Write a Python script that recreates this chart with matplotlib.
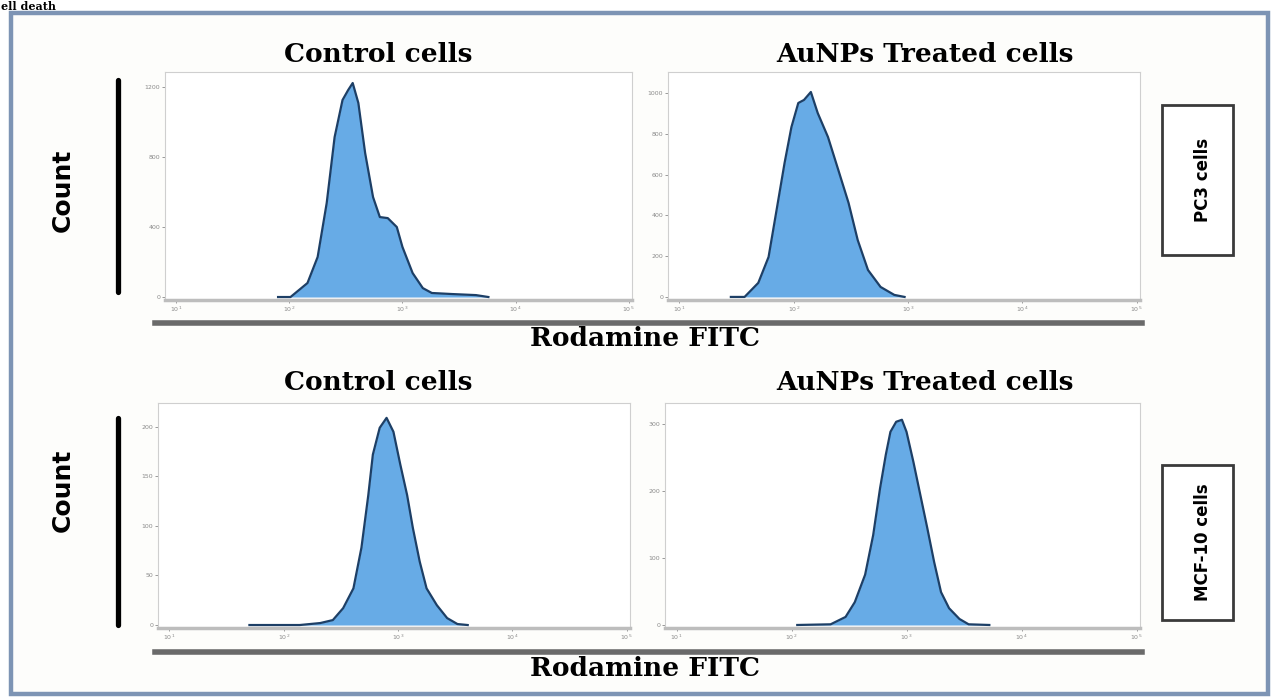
import matplotlib.pyplot as plt
import numpy as np
from matplotlib.patches import Rectangle
from matplotlib.lines import Line2D

# log10 fluorescence (Rodamine FITC) and counts
pc3_ctrl_logx = [1.90, 2.01, 2.16, 2.25, 2.33, 2.40, 2.47, 2.52, 2.56, 2.61, 2.67,
                 2.74, 2.80, 2.87, 2.95, 3.00, 3.09, 3.18, 3.26, 3.44, 3.65, 3.76]
pc3_ctrl_count = [0, 0, 80, 229, 537, 914, 1126, 1183, 1223, 1109, 823,
                  571, 457, 451, 400, 286, 137, 51, 23, 17, 11, 0]

pc3_aunp_logx = [1.45, 1.57, 1.69, 1.78, 1.85, 1.92, 1.98, 2.04, 2.09, 2.15,
                 2.21, 2.30, 2.39, 2.48, 2.56, 2.65, 2.76, 2.88, 2.97]
pc3_aunp_count = [0, 0, 69, 196, 426, 657, 833, 951, 966, 1005,
                  902, 784, 623, 461, 279, 132, 49, 10, 0]

mcf_ctrl_logx = [1.70, 2.14, 2.32, 2.43, 2.52, 2.61, 2.68, 2.74, 2.78, 2.84, 2.90,
                 2.96, 3.02, 3.08, 3.13, 3.19, 3.25, 3.34, 3.43, 3.52, 3.61]
mcf_ctrl_count = [0, 0, 2, 5, 17, 37, 78, 131, 172, 199, 209,
                  195, 162, 131, 98, 64, 37, 20, 7, 1, 0]

mcf_aunp_logx = [2.05, 2.34, 2.47, 2.55, 2.64, 2.71, 2.77, 2.82, 2.86, 2.91, 2.96,
                 3.00, 3.06, 3.12, 3.18, 3.24, 3.30, 3.37, 3.46, 3.54, 3.72]
mcf_aunp_count = [0, 1, 12, 34, 75, 134, 204, 254, 288, 303, 306,
                  288, 243, 194, 145, 94, 49, 25, 9, 1, 0]

x_ticks = [1e1, 1e2, 1e3, 1e4, 1e5]
pc3_ctrl_yticks = [0, 400, 800, 1200]
pc3_aunp_yticks = [0, 200, 400, 600, 800, 1000]
mcf_ctrl_yticks = [0, 50, 100, 150, 200]
mcf_aunp_yticks = [0, 100, 200, 300]

col_titles = ['Control cells', 'AuNPs Treated cells']
row_labels = ['PC3 cells', 'MCF-10 cells']
x_label = 'Rodamine FITC'
y_label = 'Count'

W, H = 1273, 697
fig = plt.figure(figsize=(W / 100, H / 100), dpi=100)
fig.patch.set_facecolor('white')


def fx(x):
    return x / W


def fy(y):
    return 1 - y / H


# outer frame
fig.patches.append(Rectangle((fx(11), fy(694)), fx(1268) - fx(11), fy(13) - fy(694),
                             transform=fig.transFigure, facecolor='#fdfdfb',
                             edgecolor='#7d94b4', lw=3.2, zorder=-10))
fig.text(0.001, 0.999, 'ell death', fontsize=8, fontweight='bold', family='DejaVu Serif',
         va='top', ha='left')

panels = [
    (pc3_ctrl_logx, pc3_ctrl_count, pc3_ctrl_yticks, (165, 632, 72, 300), (-17, 1286)),
    (pc3_aunp_logx, pc3_aunp_count, pc3_aunp_yticks, (668, 1140, 72, 300), (-15, 1103)),
    (mcf_ctrl_logx, mcf_ctrl_count, mcf_ctrl_yticks, (158, 630, 403, 628), (-3, 224)),
    (mcf_aunp_logx, mcf_aunp_count, mcf_aunp_yticks, (665, 1140, 403, 628), (-4.5, 331)),
]

for logx, cnt, yt, (x0, x1, y0, y1), ylim in panels:
    ax = fig.add_axes([fx(x0), fy(y1), fx(x1) - fx(x0), fy(y0) - fy(y1)])
    xs = 10 ** np.array(logx)
    ax.fill_between(xs, cnt, 0, color='#67abe6', lw=0, zorder=2)
    ax.plot(xs, cnt, color='#1d3f66', lw=1.6, zorder=3)
    ax.set_xscale('log')
    ax.set_xlim(10 ** 0.9, 10 ** 5.03)
    ax.set_ylim(*ylim)
    ax.set_xticks(x_ticks)
    ax.minorticks_off()
    ax.set_yticks(yt)
    ax.set_yticklabels([str(v) for v in yt])
    ax.tick_params(labelsize=4.5, colors='#8a8a8a', length=2, width=0.6, pad=1.5)
    for s in ['left', 'top', 'right']:
        ax.spines[s].set_color('#cfcfcf')
        ax.spines[s].set_linewidth(0.8)
    ax.spines['bottom'].set_color('#bdbdbd')
    ax.spines['bottom'].set_linewidth(2.5)

# column titles
for yy in (55, 383):
    fig.text(fx(378), fy(yy), col_titles[0], ha='center', va='center',
             family='DejaVu Serif', fontweight='bold', fontsize=19)
    fig.text(fx(925), fy(yy), col_titles[1], ha='center', va='center',
             family='DejaVu Serif', fontweight='bold', fontsize=19)

# x label bars and text
for ybar, ytxt in ((323, 339), (652, 668)):
    fig.lines.append(Line2D([fx(155), fx(1142)], [fy(ybar), fy(ybar)],
                            transform=fig.transFigure, color='#6a6a6a', lw=4))
    fig.text(fx(645), fy(ytxt), x_label, ha='center', va='center',
             family='DejaVu Serif', fontweight='bold', fontsize=19)

# Count labels and black bars
for (yb0, yb1), yc in (((80, 292), 190), ((418, 625), 490)):
    fig.lines.append(Line2D([fx(118), fx(118)], [fy(yb0), fy(yb1)],
                            transform=fig.transFigure, color='black', lw=3.8,
                            solid_capstyle='round'))
    fig.text(fx(63), fy(yc), y_label, rotation=90, ha='center', va='center',
             family='DejaVu Sans', fontweight='bold', fontsize=18)

# row labels in boxes
for lab, (by0, by1) in zip(row_labels, ((105, 255), (465, 620))):
    fig.patches.append(Rectangle((fx(1162), fy(by1)), fx(1233) - fx(1162), fy(by0) - fy(by1),
                                 transform=fig.transFigure, facecolor='white',
                                 edgecolor='#3a3a3a', lw=2))
    fig.text(fx(1203), fy((by0 + by1) / 2), lab, rotation=90, ha='center', va='center',
             family='DejaVu Sans', fontweight='bold', fontsize=12)

fig.savefig('out.png', dpi=100)
